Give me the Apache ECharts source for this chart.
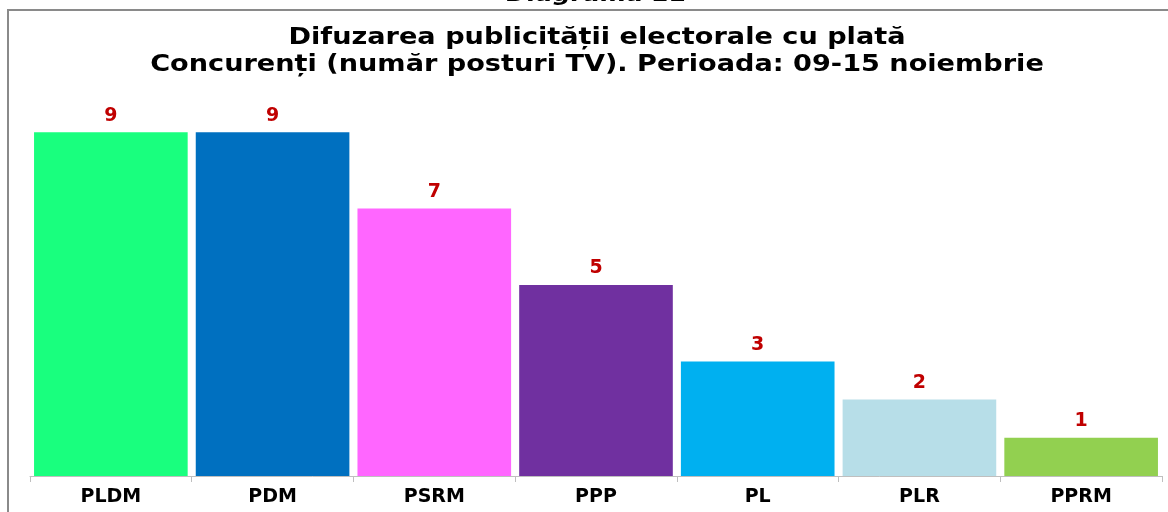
<!DOCTYPE html>
<html>
<head>
<meta charset="utf-8">
<script src="https://cdn.jsdelivr.net/npm/echarts@6/dist/echarts.min.js"></script>
<style>
  html, body { margin: 0; padding: 0; background: #fff; }
  #chart { width: 1168px; height: 512px; }
</style>
</head>
<body>
<div id="chart"></div>
<script>
// partide si numar de posturi TV
const categories = ['PLDM', 'PDM', 'PSRM', 'PPP', 'PL', 'PLR', 'PPRM']
const values = [9, 9, 7, 5, 3, 2, 1]
const barColors = ['#19FF7E', '#0070C0', '#FF66FF', '#7030A0', '#00B0F0', '#B7DEE8', '#92D050']

const titleText = 'Difuzarea publicității electorale cu plată\nConcurenți (număr posturi TV). Perioada: 09-15 noiembrie'

const chart = echarts.init(document.getElementById('chart'))

const option = {
    backgroundColor: '#fff',
    animation: false,
    graphic: [
        {
            // chenarul diagramei
            type: 'rect',
            shape: { x: 8, y: 10, width: 1200, height: 600 },
            style: { fill: 'none', stroke: '#8a8a8a', lineWidth: 2 },
            silent: true
        },
        {
            // titlul de deasupra, taiat de margine
            type: 'text',
            x: 597,
            y: -4,
            scaleX: 1.2,
            style: {
                text: 'Diagrama 11',
                font: 'italic bold 21px "DejaVu Sans"',
                fill: '#000',
                align: 'center',
                verticalAlign: 'middle'
            },
            silent: true
        },
        {
            // titlul diagramei (Verdana e mai lata, deci il intindem)
            type: 'text',
            x: 597,
            y: 25,
            scaleX: 1.18,
            style: {
                text: titleText,
                font: 'bold 23px "DejaVu Sans"',
                lineHeight: 27,
                fill: '#000',
                align: 'center',
                verticalAlign: 'top'
            },
            silent: true
        }
    ],
    grid: {
        left: 30,
        right: 6,
        top: 94,
        bottom: 36
    },
    xAxis: {
        type: 'category',
        data: categories,
        axisLine: { lineStyle: { color: '#bfbfbf', width: 1 } },
        axisTick: { show: true, length: 6, lineStyle: { color: '#bfbfbf' } },
        axisLabel: {
            fontFamily: 'DejaVu Sans',
            fontWeight: 'bold',
            fontSize: 19,
            color: '#000',
            margin: 12
        }
    },
    yAxis: {
        type: 'value',
        min: 0,
        max: 10,
        show: false,
        splitLine: { show: false }
    },
    series: [
        {
            type: 'bar',
            data: values.map((v, i) => ({
                value: v,
                itemStyle: { color: barColors[i] }
            })),
            barCategoryGap: '5%',
            label: {
                show: true,
                position: 'top',
                distance: 7,
                fontFamily: 'DejaVu Sans',
                fontWeight: 'bold',
                fontSize: 19,
                color: '#C00000'
            }
        }
    ]
}

chart.setOption(option)
</script>
</body>
</html>
